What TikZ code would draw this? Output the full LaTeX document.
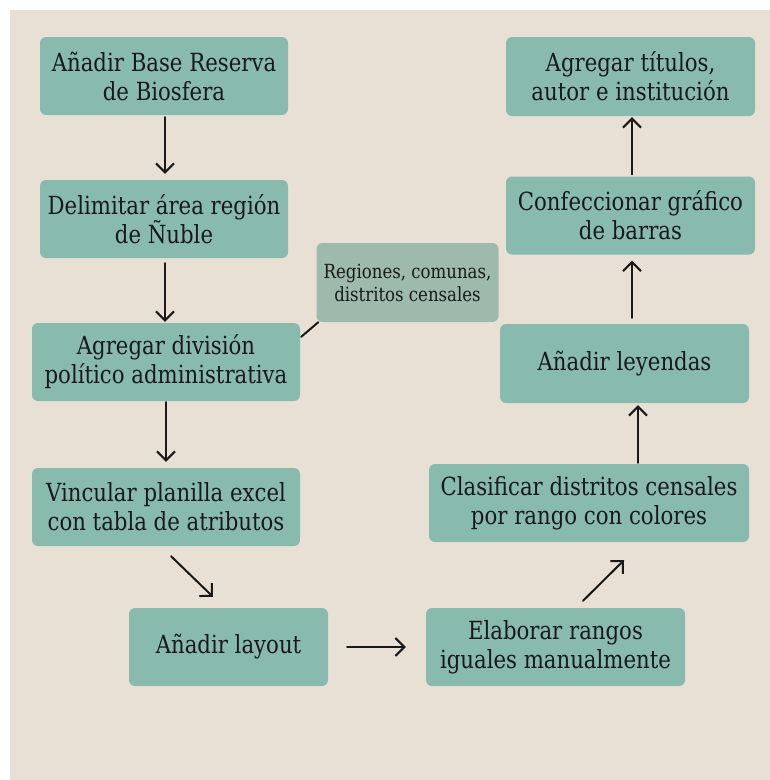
\documentclass[tikz,border=0pt]{standalone}
\usepackage{fontspec}
\setmainfont{DejaVu Serif}[FakeStretch=0.85]
\usetikzlibrary{arrows.meta}
\definecolor{fondo}{RGB}{233,224,213}
\definecolor{verde}{RGB}{136,187,174}
\definecolor{gris}{RGB}{157,186,172}
\definecolor{tinta}{RGB}{25,25,25}
\begin{document}
\begin{tikzpicture}[x=1pt, y=-1pt, line join=round, line cap=round, >={Straight Barb[length=9pt,width=18pt]}]
				\tikzset{caja/.style={fill=verde, rounded corners=6pt, align=center, inner sep=0pt, text=tinta,
						font=\fontsize{25}{29}\selectfont, minimum height=78pt},
					nota/.style={caja, fill=gris, font=\fontsize{19.5}{23}\selectfont},
					flecha/.style={->, line width=2pt, draw=tinta}}
				\fill[white] (0,0) rectangle (770,780);
				\fill[fondo] (10,10) rectangle (770,780);
				% columna izquierda
				\node[caja, minimum width=248pt] (base) at (164,76) {Añadir Base Reserva\\de Biosfera};
				\node[caja, minimum width=248pt] (nuble) at (164,219) {Delimitar área región\\de Ñuble};
				\node[caja, minimum width=268pt] (division) at (166,362) {Agregar división\\político administrativa};
				\node[caja, minimum width=268pt] (planilla) at (166,507) {Vincular planilla excel\\con tabla de atributos};
				\node[caja, minimum width=199pt] (layout) at (228.5,647) {Añadir layout};
				\node[nota, minimum width=182pt, minimum height=79pt] (regiones) at (407.5,282.5) {Regiones, comunas,\\distritos censales};
				% columna derecha
				\node[caja, minimum width=259pt] (rangos) at (555.5,647) {Elaborar rangos\\iguales manualmente};
				\node[caja, minimum width=320pt] (clasificar) at (589,503) {Clasificar distritos censales\\por rango con colores};
				\node[caja, minimum width=249pt, minimum height=79pt] (leyendas) at (624.5,363.5) {Añadir leyendas};
				\node[caja, minimum width=249pt] (grafico) at (630.5,215.5) {Confeccionar gráfico\\de barras};
				\node[caja, minimum width=249pt, minimum height=79pt] (titulos) at (630.5,76.5) {Agregar títulos,\\autor e institución};
				\draw[flecha] ([shift={(1,2)}]base.south)--([shift={(1,-6)}]nuble.north);
				\draw[flecha] ([shift={(1,5)}]nuble.south)--([shift={(-1,-1)}]division.north);
				\draw[flecha] ([shift={(0,1)}]division.south)--([shift={(0,-6)}]planilla.north);
				\draw[flecha] ([shift={(5,10)}]planilla.south)--([shift={(-15.5,-11)}]layout.north);
				\draw[flecha] ([xshift=19]layout.east)--([xshift=-20]rangos.west);
				\draw[flecha] ([shift={(27.5,-7)}]rangos.north)--([shift={(35,18)}]clasificar.south);
				\draw[flecha] ([shift={(49,-1)}]clasificar.north)--([shift={(13.5,2)}]leyendas.south);
				\draw[flecha] ([shift={(7.5,-6)}]leyendas.north)--([shift={(1.5,6)}]grafico.south);
				\draw[flecha] ([shift={(1.5,-2)}]grafico.north)--([shift={(1.5,1)}]titulos.south);
				\draw[line width=2pt, draw=tinta] ([xshift=2]regiones.south west)--([shift={(1,14)}]division.north east);
			\end{tikzpicture}
\end{document}
